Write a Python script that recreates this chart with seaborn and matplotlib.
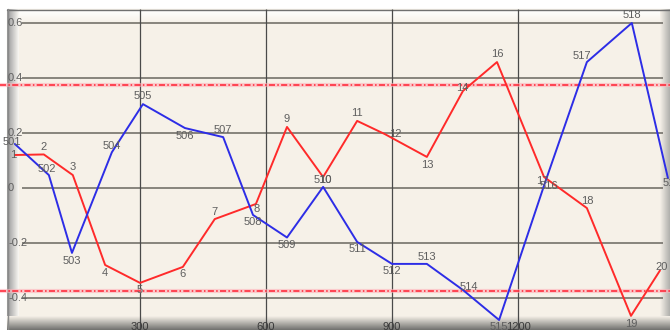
import numpy as np
import pandas as pd
import matplotlib
matplotlib.use("Agg")
import matplotlib.pyplot as plt
import seaborn as sns

# ---- data -------------------------------------------------------------
red_ids = [1, 2, 3, 4, 5, 6, 7, 8, 9, 10, 11, 12, 13, 14, 16, 17, 18, 19, 20]
red_time = [2, 71, 140, 217, 300, 402, 478, 576, 650, 736, 817, 883, 983,
            1069, 1150, 1262, 1364, 1469, 1538]
red_value = [0.12, 0.122, 0.047, -0.28, -0.345, -0.287, -0.113, -0.058,
             0.222, 0.04, 0.244, 0.196, 0.113, 0.353, 0.458, 0.04, -0.073,
             -0.465, -0.30]

blue_ids = list(range(501, 520))
blue_time = [2, 83, 138, 233, 307, 407, 498, 569, 650, 736, 817, 900, 983,
             1069, 1155, 1264, 1364, 1471, 1557]
blue_value = [0.16, 0.047, -0.236, 0.13, 0.305, 0.218, 0.185, -0.098, -0.18,
              0.004, -0.196, -0.276, -0.276, -0.371, -0.48, 0.018, 0.458,
              0.60, 0.036]

limit_upper = 0.375
limit_lower = -0.375

y_ticks = [-0.4, -0.2, 0.0, 0.2, 0.4, 0.6]
y_tick_labels = ["-0.4", "-0.2", "0", "0.2", "0.4", "0.6"]
x_ticks = [300, 600, 900, 1200]
x_tick_labels = ["300", "600", "900", "1200"]

# ---- label placement (pixel offsets from each point, +y is up) --------
red_label_offsets = [(-2, 0), (0, 7), (0, 8), (0, -8), (0, -7), (0, -7),
                     (0, 7), (1, -5), (0, 8), (2, -3), (0, 8), (10, 0),
                     (0, -8), (-1, 3), (0, 8), (-2, -4), (0, 7), (0, -8),
                     (2, 3)]
blue_label_offsets = [(-3, 2), (-2, 6), (0, -8), (0, 6), (0, 8), (0, -8),
                      (0, 7), (0, -7), (0, -7), (0, 7), (0, -7), (0, -7),
                      (0, 7), (6, 3), (0, -7), (4, -3), (-5, 6), (0, 8),
                      (4, -5)]

# ---- figure geometry ----------------------------------------------------
W, H = 670, 330
X0_PX, X_PER_PX = 14, 300 / 126      # data x = (px - 14) * 300/126
Y0_PX, Y_PER_PX = 188, 0.2 / 55      # data y = (188 - py) * 0.2/55


def px_x(px):
    return (px - X0_PX) * X_PER_PX


def px_y(py):
    return (Y0_PX - py) * Y_PER_PX


sns.set_style("white")
plt.rcParams["font.family"] = ["Liberation Sans Narrow", "Liberation Sans", "DejaVu Sans"]

fig = plt.figure(figsize=(W / 100, H / 100), dpi=100)

# background panel with bevelled frame, in pixel coordinates
bg = fig.add_axes([0, 0, 1, 1], zorder=0)
bg.set_xlim(0, W)
bg.set_ylim(H, 0)
bg.axis("off")

cream = np.array([246, 241, 232]) / 255
white = np.array([255, 255, 255]) / 255


def grad(c0, c1, n, horizontal):
    t = np.linspace(0, 1, n)
    arr = c0[None, :] * (1 - t[:, None]) + c1[None, :] * t[:, None]
    if horizontal:
        return arr[None, :, :]
    return arr[:, None, :]


bg.add_patch(plt.Rectangle((0, 0), W, H, color="white", zorder=0))
bg.add_patch(plt.Rectangle((7, 9), W - 7, H - 9, color=cream, zorder=1))
# top highlight
bg.imshow(grad(white, cream, 64, False), extent=(18, W, 23, 10),
          aspect="auto", interpolation="bilinear", zorder=2)
# left bevel
bg.imshow(grad(np.array([150, 150, 150]) / 255, np.array([250, 248, 244]) / 255, 64, True),
          extent=(7, 19, 322, 9), aspect="auto", interpolation="bilinear", zorder=3)
# right bevel
bg.imshow(grad(cream, np.array([175, 175, 172]) / 255, 64, True),
          extent=(660, W, 322, 9), aspect="auto", interpolation="bilinear", zorder=3)
# bottom bevel
bg.imshow(grad(cream, np.array([112, 112, 110]) / 255, 64, False),
          extent=(7, W, H, 316), aspect="auto", interpolation="bilinear", zorder=4)
bg.plot([7, W], [9.5, 9.5], color="#707070", lw=1.0, zorder=5)
bg.plot([7.5, 7.5], [9, H], color="#8a8a8a", lw=1.0, zorder=5)

# main chart axes
ax = fig.add_axes([0, 0, 1, 1], zorder=1)
ax.patch.set_visible(False)
ax.set_xlim(px_x(0), px_x(W))
ax.set_ylim(px_y(H), px_y(0))
for s in ax.spines.values():
    s.set_visible(False)
ax.set_xticks([])
ax.set_yticks([])

# grid
ax.hlines(y_ticks, px_x(22), px_x(663), color="#6a6760", lw=1.1, zorder=1)
ax.vlines(x_ticks, px_y(H), px_y(9), color="#4a4a4a", lw=0.9, zorder=1)

# control limits
for lim in (limit_upper, limit_lower):
    ax.axhline(lim, color="#ffb0b8", lw=3.0, alpha=0.6, zorder=2)
    ax.axhline(lim, color="#ff2030", lw=1.1, ls=(0, (4, 1.5, 1, 1.5)), zorder=3)

# series
df = pd.concat([
    pd.DataFrame({"time": red_time, "value": red_value, "series": "red"}),
    pd.DataFrame({"time": blue_time, "value": blue_value, "series": "blue"}),
], ignore_index=True)
sns.lineplot(data=df, x="time", y="value", hue="series", units="series",
             estimator=None, sort=False, legend=False, lw=1.4,
             palette={"red": "#ff2a2a", "blue": "#2d2de6"}, ax=ax, zorder=4)
ax.set_xlabel("")
ax.set_ylabel("")
ax.set_xlim(px_x(0), px_x(W))
ax.set_ylim(px_y(H), px_y(0))

# point labels
for ids, xs, ys, offs in ((red_ids, red_time, red_value, red_label_offsets),
                          (blue_ids, blue_time, blue_value, blue_label_offsets)):
    for i, x, y, (dx, dy) in zip(ids, xs, ys, offs):
        ax.annotate(str(i), (x, y), xytext=(dx, dy), textcoords="offset pixels",
                    ha="center", va="center", fontsize=8, color="#5e5e5e",
                    zorder=5, annotation_clip=False)

# axis labels drawn inside the frame
for v, t in zip(y_ticks, y_tick_labels):
    ax.text(px_x(8), v, t, ha="left", va="center", fontsize=8,
            color="#5e5e5e", zorder=5)
for v, t in zip(x_ticks, x_tick_labels):
    ax.text(v, px_y(322), t, ha="center", va="top", fontsize=8,
            color="#3a3a3a", zorder=5)

fig.savefig("out.png", dpi=100)
